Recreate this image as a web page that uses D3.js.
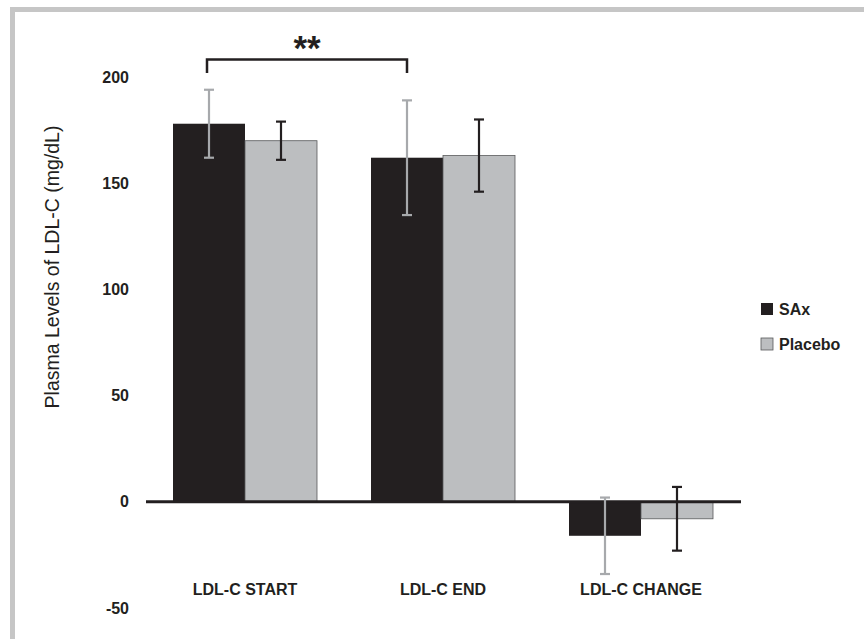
<!DOCTYPE html>
<html>
<head>
<meta charset="utf-8">
<script src="https://cdn.jsdelivr.net/npm/d3@7"></script>
<style>
  html, body { margin: 0; padding: 0; background: #fff; }
  svg { display: block; font-family: "Liberation Sans", Arial, sans-serif; }
</style>
</head>
<body>
<svg id="chart" width="864" height="639"></svg>
<script>
// LDL-C plasma levels by time point, SAx vs Placebo (mean ± SD)
const categories = ["LDL-C START", "LDL-C END", "LDL-C CHANGE"];
const seriesNames = ["SAx", "Placebo"];
const saxMeans = [178, 162, -16];
const saxErrors = [16, 27, 18];
const placeboMeans = [170, 163, -8];
const placeboErrors = [9, 17, 15];
const yTicks = [-50, 0, 50, 100, 150, 200];
const yTitle = "Plasma Levels of LDL-C (mg/dL)";
const significance = "**";

const colors = { SAx: "#231f20", Placebo: "#bcbec0" };
const errColors = { SAx: "#a7a9ac", Placebo: "#231f20" };

const rows = [];
categories.forEach((c, i) => {
  rows.push({ cat: c, series: "SAx", value: saxMeans[i], err: saxErrors[i] });
  rows.push({ cat: c, series: "Placebo", value: placeboMeans[i], err: placeboErrors[i] });
});

const svg = d3.select("#chart");

// Frame
svg.append("path")
  .attr("d", "M12.5,639 L12.5,9.5 L864,9.5")
  .attr("fill", "none")
  .attr("stroke", "#c6c6c6")
  .attr("stroke-width", 5);

const x0 = d3.scaleBand().domain(categories).range([146, 740]).padding(0);
const x1 = d3.scaleBand().domain(seriesNames).range([27, 171]).padding(0);
const y = d3.scaleLinear().domain([-50, 200]).range([608, 77]);

// Y axis labels only
const yAxis = svg.append("g")
  .attr("transform", "translate(146,0)")
  .call(d3.axisLeft(y).tickValues(yTicks).tickFormat(d => String(d)).tickSize(0).tickPadding(17));
yAxis.select(".domain").remove();
yAxis.selectAll("text")
  .attr("font-size", 16)
  .attr("font-weight", "bold")
  .attr("fill", "#231f20")
  .attr("font-family", "'Liberation Sans', Arial, sans-serif");

// Y title
svg.append("text")
  .attr("transform", "translate(59,267) rotate(-90)")
  .attr("text-anchor", "middle")
  .attr("font-size", 19.5)
  .attr("fill", "#231f20")
  .text(yTitle);

// Bars
svg.append("g").selectAll("rect")
  .data(rows)
  .join("rect")
  .attr("x", d => x0(d.cat) + x1(d.series))
  .attr("width", x1.bandwidth())
  .attr("y", d => y(Math.max(0, d.value)))
  .attr("height", d => Math.abs(y(d.value) - y(0)))
  .attr("fill", d => colors[d.series])
  .attr("stroke", d => d.series === "Placebo" ? "#58595b" : "none")
  .attr("stroke-width", 0.8);

// Zero baseline
svg.append("line")
  .attr("x1", x0.range()[0]).attr("x2", x0.range()[1] + 1)
  .attr("y1", y(0)).attr("y2", y(0))
  .attr("stroke", "#231f20")
  .attr("stroke-width", 3);

// Error bars
const eg = svg.append("g").selectAll("g")
  .data(rows)
  .join("g")
  .attr("stroke", d => errColors[d.series])
  .attr("stroke-width", 2.2);
const cx = d => x0(d.cat) + x1(d.series) + x1.bandwidth() / 2;
eg.append("line")
  .attr("x1", cx).attr("x2", cx)
  .attr("y1", d => y(d.value + d.err)).attr("y2", d => y(d.value - d.err));
eg.append("line")
  .attr("x1", d => cx(d) - 5).attr("x2", d => cx(d) + 5)
  .attr("y1", d => y(d.value + d.err)).attr("y2", d => y(d.value + d.err));
eg.append("line")
  .attr("x1", d => cx(d) - 5).attr("x2", d => cx(d) + 5)
  .attr("y1", d => y(d.value - d.err)).attr("y2", d => y(d.value - d.err));

// Significance bracket between SAx START and SAx END
const bx1 = x0(categories[0]) + x1("SAx") + x1.bandwidth() / 2 - 2;
const bx2 = x0(categories[1]) + x1("SAx") + x1.bandwidth() / 2;
svg.append("path")
  .attr("d", `M${bx1},73 L${bx1},59.5 L${bx2},59.5 L${bx2},73`)
  .attr("fill", "none")
  .attr("stroke", "#231f20")
  .attr("stroke-width", 2.5);
svg.append("text")
  .attr("x", (bx1 + bx2) / 2)
  .attr("y", 60)
  .attr("text-anchor", "middle")
  .attr("font-size", 35)
  .attr("font-weight", "bold")
  .attr("fill", "#231f20")
  .text(significance);

// Category labels
svg.append("g").selectAll("text")
  .data(categories)
  .join("text")
  .attr("x", d => x0(d) + x0.bandwidth() / 2)
  .attr("y", 595)
  .attr("text-anchor", "middle")
  .attr("font-size", 16)
  .attr("font-weight", "bold")
  .attr("fill", "#231f20")
  .text(d => d);

// Legend
const lg = svg.append("g").selectAll("g")
  .data(seriesNames)
  .join("g")
  .attr("transform", (d, i) => `translate(761,${303 + i * 35})`);
lg.append("rect")
  .attr("width", 12).attr("height", 12)
  .attr("fill", d => colors[d])
  .attr("stroke", d => d === "Placebo" ? "#58595b" : "none")
  .attr("stroke-width", 0.8);
lg.append("text")
  .attr("x", 18).attr("y", 12)
  .attr("font-size", 16)
  .attr("font-weight", "bold")
  .attr("fill", "#231f20")
  .text(d => d);
</script>
</body>
</html>
